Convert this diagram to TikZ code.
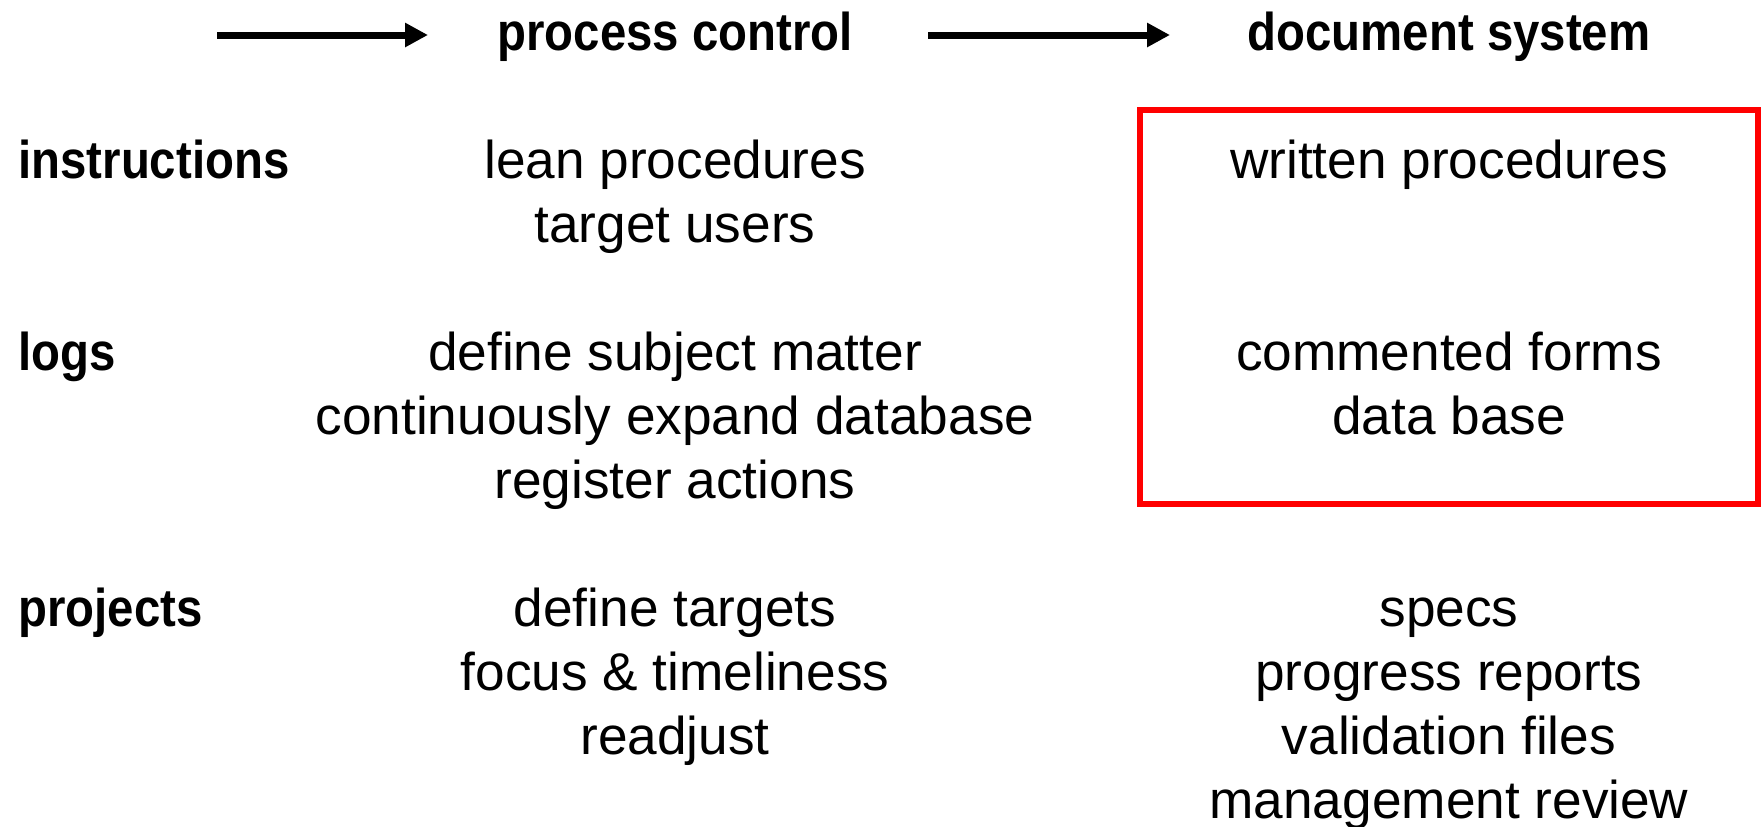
\documentclass[tikz,border=0pt]{standalone}
\usepackage{fontspec}
\setmainfont{Liberation Sans}
\usetikzlibrary{arrows.meta}
\tikzset{
  txt/.style={inner sep=0pt, anchor=base, font=\fontsize{26.6pt}{32pt}\selectfont},
  hdr/.style={inner sep=0pt, anchor=base, font=\fontsize{26.6pt}{32pt}\selectfont\bfseries},
  rowlab/.style={hdr, anchor=base west},
  flow/.style={line width=3.5pt, -{Triangle[length=11.5pt,width=11.5pt]}},
  hilite/.style={draw=red, line width=3pt}
}
\newcommand{\cond}[1]{\scalebox{0.89}[1]{#1}}
\begin{document}
\begin{tikzpicture}[x=0.5pt,y=-0.5pt]
\useasboundingbox (0,0) rectangle (1761,826);
% headers
\node[hdr] (hpc) at (675,50) {\cond{process control}};
\node[hdr] (hds) at (1449,50) {\cond{document system}};
\coordinate (a1s) at (217,35);
\coordinate (a1e) at (428,35);
\coordinate (a2s) at (928,35);
\coordinate (a2e) at (1170,35);
\draw[flow] (a1s) -- (a1e);
\draw[flow] (a2s) -- (a2e);
% row labels
\node[rowlab] (rins) at (18,178) {\cond{instructions}};
\node[rowlab] (rlog) at (18,370) {\cond{logs}};
\node[rowlab] (rpro) at (18,626) {\cond{projects}};
% middle column
\node[txt] (m1) at (675,178) {lean procedures};
\node[txt] (m2) at (675,242) {target users};
\node[txt] (m3) at (675,370) {define subject matter};
\node[txt] (m4) at (675,434) {continuously expand database};
\node[txt] (m5) at (675,498) {register actions};
\node[txt] (m6) at (675,626) {define targets};
\node[txt] (m7) at (675,690) {focus \& timeliness};
\node[txt] (m8) at (675,754) {readjust};
% right column
\node[txt] (r1) at (1449,178) {written procedures};
\node[txt] (r2) at (1449,370) {commented forms};
\node[txt] (r3) at (1449,434) {data base};
\node[txt] (r4) at (1449,626) {specs};
\node[txt] (r5) at (1449,690) {progress reports};
\node[txt] (r6) at (1449,754) {validation files};
\node[txt] (r7) at (1449,818) {management review};
% highlight box
\draw[hilite] (1140,110) rectangle (1758,504);
\end{tikzpicture}
\end{document}
